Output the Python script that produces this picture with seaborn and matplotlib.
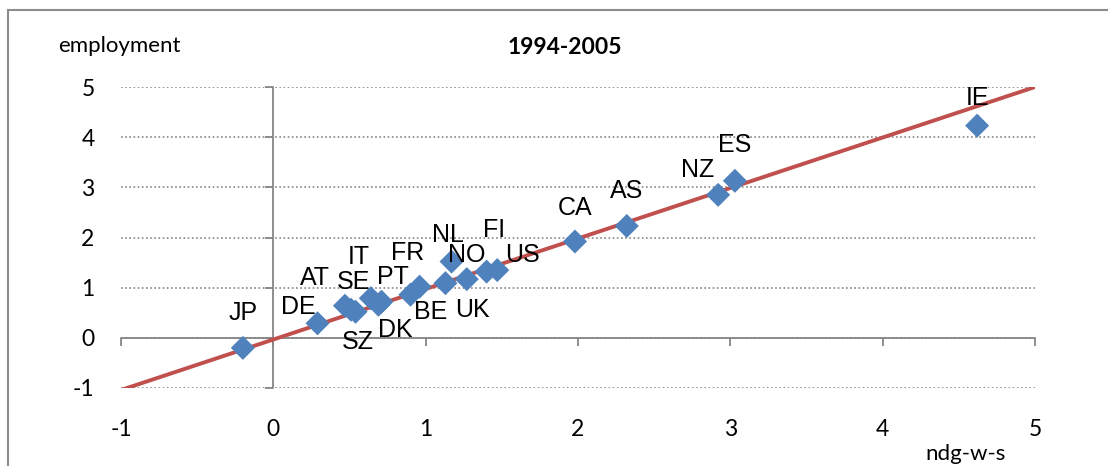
import numpy as np
import pandas as pd
import matplotlib
matplotlib.use('Agg')
import matplotlib.pyplot as plt
from matplotlib.patches import Rectangle
import seaborn as sns

# data
countries = ['JP', 'DE', 'AT', 'SE', 'SZ', 'IT', 'PT', 'DK', 'BE', 'FR',
             'UK', 'NL', 'NO', 'FI', 'US', 'CA', 'AS', 'NZ', 'ES', 'IE']
ndg_w_s = [-0.20, 0.29, 0.47, 0.51, 0.54, 0.64, 0.71, 0.69, 0.90, 0.96,
           1.13, 1.17, 1.27, 1.40, 1.47, 1.98, 2.32, 2.92, 3.03, 4.62]
employment = [-0.20, 0.29, 0.64, 0.56, 0.52, 0.79, 0.72, 0.66, 0.86, 1.02,
              1.09, 1.52, 1.17, 1.32, 1.35, 1.92, 2.23, 2.85, 3.13, 4.23]
ticks = [-1, 0, 1, 2, 3, 4, 5]

# 45-degree reference line
line_x = [-1, 5]
line_y = [-1.04, 5]

# label offsets in pixels (moved by hand in the original)
label_dx = [0, -19, -30, 2, 2, -12, 11, 17, 20, -12, 27, -4, 0, 7, 25, 0, 0, -21, 0, 0]
label_dy = [35, 16, 28, 28, -30, 41, 25, -25, -17, 34, -27, 27, 24, 42, 15, 34, 35, 25, 36, 28]

df = pd.DataFrame({'country': countries, 'x': ndg_w_s, 'y': employment})

sns.set_style('white')
plt.rcParams['font.family'] = ['Lato', 'DejaVu Sans']
plt.rcParams['axes.unicode_minus'] = False
plt.rcParams['text.color'] = 'black'

W, H = 1108, 466
fig = plt.figure(figsize=(W / 100, H / 100), dpi=100)
ax = fig.add_axes([121 / W, 1 - 388 / H, (1035 - 121) / W, (388 - 87) / H])

grey = '#868686'
ax.set_xlim(-1, 5)
ax.set_ylim(-1, 5)
ax.set_xticks(ticks)
ax.set_yticks(ticks)
ax.tick_params(length=0, labelsize=16.5, colors='black')
ax.tick_params(axis='y', pad=19)
ax.tick_params(axis='x', pad=22)
for s in ax.spines.values():
    s.set_visible(False)
ax.yaxis.grid(True, linestyle=(0, (1, 1.5)), color=grey, linewidth=1.2)
ax.xaxis.grid(False)

# axes crossing at zero, Excel style
ax.plot([-1, 5], [0, 0], color=grey, lw=1.3, zorder=2, clip_on=False)
ax.plot([0, 0], [-1, 5], color=grey, lw=1.3, zorder=2, clip_on=False)
ax.plot(ticks, [0] * len(ticks), ls='none', marker=3, ms=6, mew=1.3, color=grey, clip_on=False)
ax.plot([0] * len(ticks), ticks, ls='none', marker=0, ms=6, mew=1.3, color=grey, clip_on=False)

sns.lineplot(x=line_x, y=line_y, color='#C0504D', lw=2.8, zorder=3, ax=ax)

sns.scatterplot(data=df, x='x', y='y', marker='D', s=150, color='#4F81BD',
                edgecolor='none', zorder=4, ax=ax, clip_on=False)
ax.set_xlabel('')
ax.set_ylabel('')

for c, x, y, dx, dy in zip(countries, ndg_w_s, employment, label_dx, label_dy):
    ax.annotate(c, (x, y), xytext=(dx, dy), textcoords='offset pixels',
                ha='center', va='center', fontsize=18, color='black',
                family=['Liberation Sans', 'DejaVu Sans'], zorder=5)

fig.text(565 / W, 1 - 48 / H, '1994-2005', ha='center', va='center',
         fontsize=16.5, fontweight='bold', color='black')
fig.text(119 / W, 1 - 46 / H, 'employment', ha='center', va='center', fontsize=16, color='black')
fig.text(966 / W, 1 - 454 / H, 'ndg-w-s', ha='center', va='center', fontsize=16, color='black')

fig.patches.append(Rectangle((8 / W, -0.1), 1.2, 1.1 - 10 / H, transform=fig.transFigure,
                             fill=False, edgecolor='#8c8c8c', lw=1.5))

fig.savefig('out.png', dpi=100)
